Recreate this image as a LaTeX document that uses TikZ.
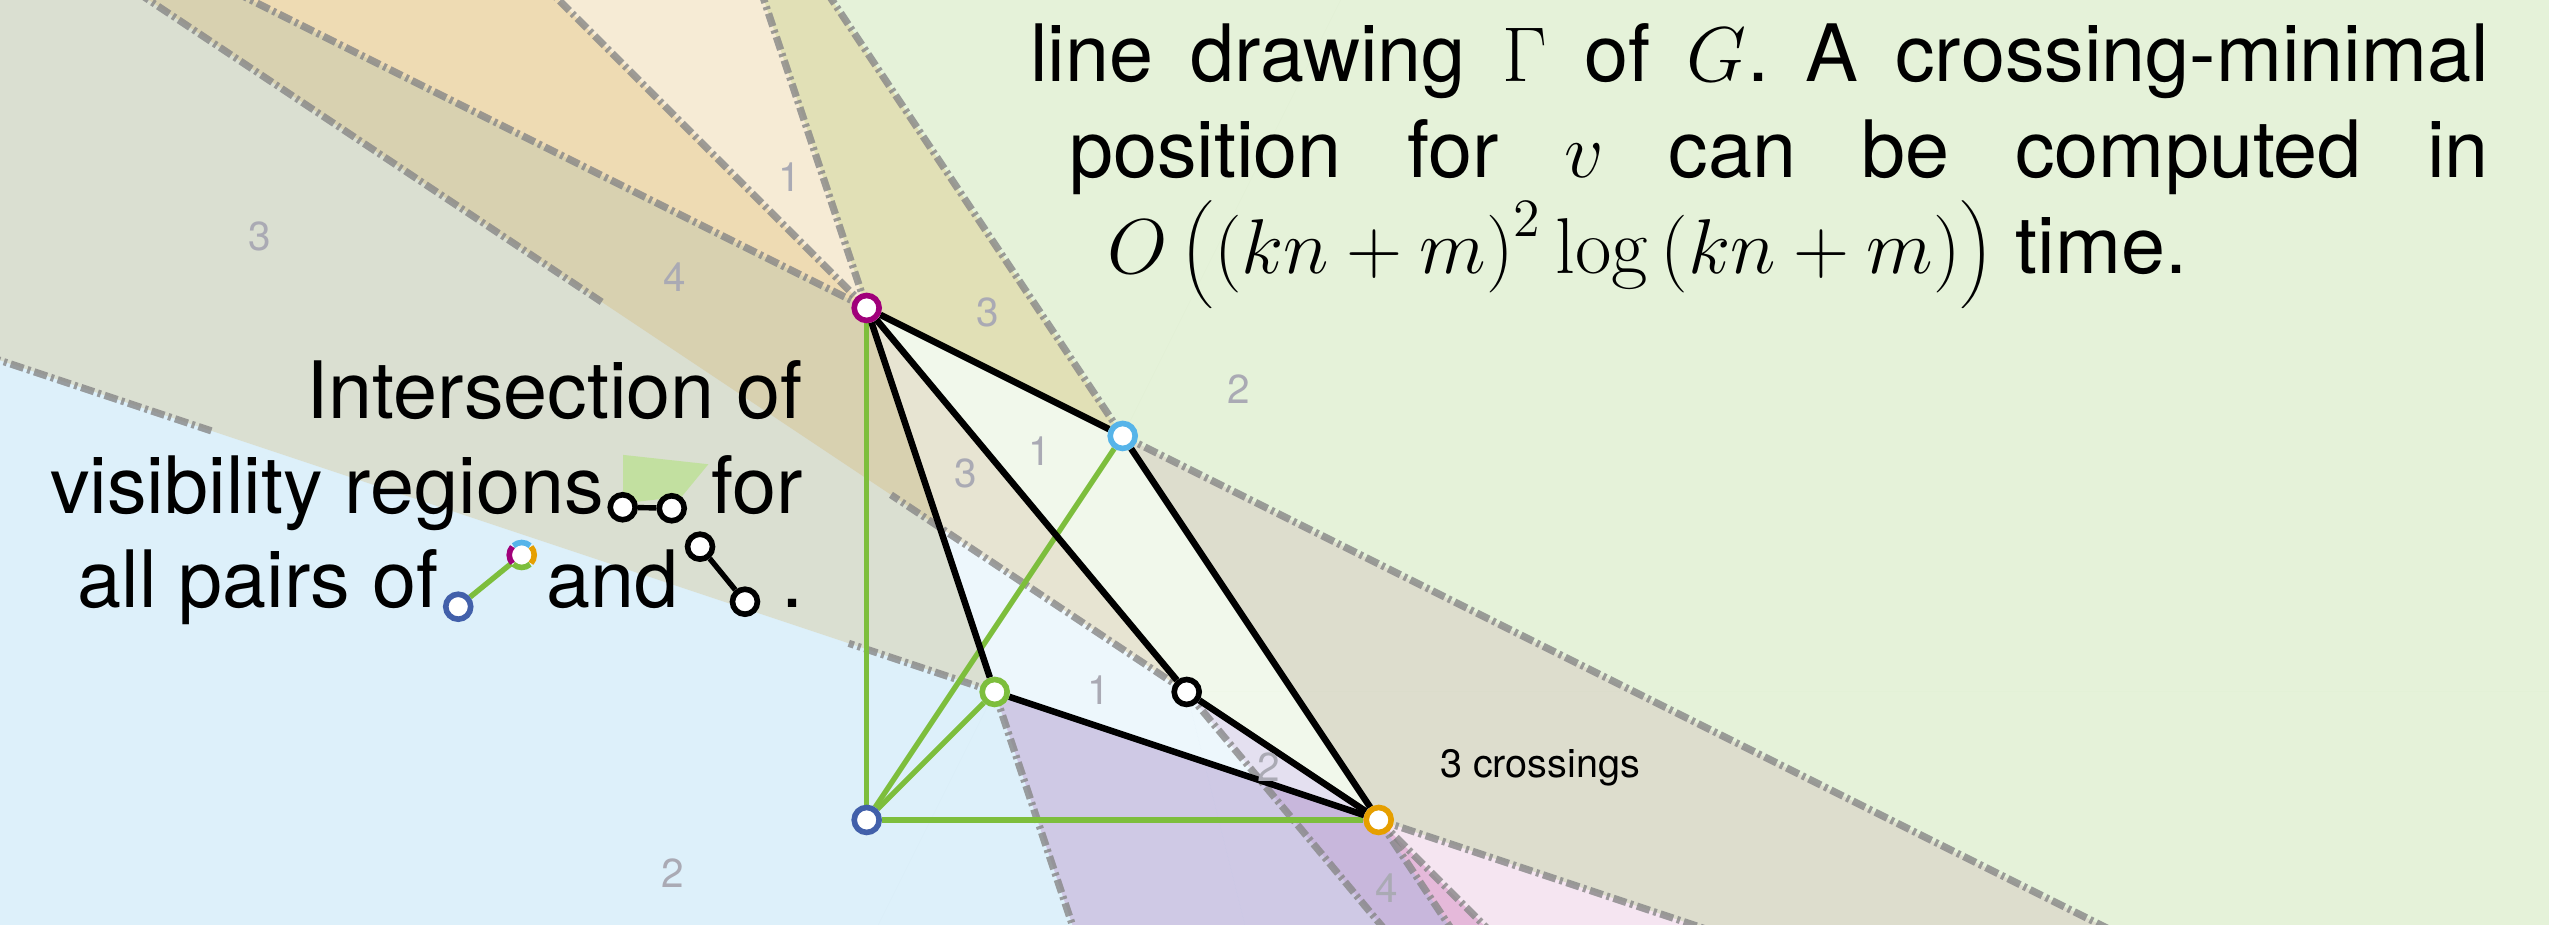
\documentclass[tikz,border=0pt]{standalone}
\usepackage{fontspec}
\setsansfont{TeX Gyre Heros}
\usetikzlibrary{calc}
\pgfdeclarelayer{bg}
\pgfsetlayers{bg,main}
\frenchspacing
\definecolor{cM}{RGB}{160,0,122}
\definecolor{cC}{RGB}{86,180,233}
\definecolor{cG}{RGB}{125,190,60}
\definecolor{cO}{RGB}{230,159,0}
\definecolor{cB}{RGB}{66,96,170}
\definecolor{fO}{RGB}{210,155,45}
\definecolor{numgray}{RGB}{170,170,180}
\definecolor{legfill}{RGB}{194,224,160}
\definecolor{raygray}{RGB}{135,135,135}
\newcommand{\shd}[4]{\fill[#4] (#2) -- (#3) -- ($(#3)!-30!(#1)$) -- ($(#2)!-30!(#1)$) -- cycle;}
\begin{document}
\begin{tikzpicture}[
  sM/.style={fill=cM, fill opacity=0.1, draw=none},
  sMM/.style={fill=cM, fill opacity=0.19, draw=none},
  sC/.style={fill=cC, fill opacity=0.1, draw=none},
  sG/.style={fill=cG, fill opacity=0.1, draw=none},
  sO/.style={fill=fO, fill opacity=0.2, draw=none},
  rayline/.style={draw=raygray, draw opacity=0.8, line width=1.6pt, dash pattern=on 3pt off 0.9pt on 0.7pt off 0.9pt},
  gedge/.style={draw=cG, line width=1.2pt},
  bedge/.style={draw=black, line width=1.45pt},
  vtx/.style={circle, draw=#1, fill=white, line width=1.25pt, minimum size=0.195cm, inner sep=0pt},
  num/.style={text=numgray, inner sep=0pt, font=\sffamily\fontsize{9}{10}\selectfont},
  txt/.style={inner sep=0pt, font=\sffamily\fontsize{17.6}{21.3}\selectfont},
  small/.style={inner sep=0pt, font=\sffamily\fontsize{8.8}{10}\selectfont}
]
\useasboundingbox (-6.771,-0.820) rectangle (13.143,6.406);
\coordinate (pB) at (0,0);
\coordinate (pM) at (0,4);
\coordinate (pC) at (2,3);
\coordinate (pG) at (1,1);
\coordinate (pK) at (2.5,1);
\coordinate (pO) at (4,0);
% vertices
\node[vtx=cB] (b) at (pB) {};
\node[vtx=cM] (m) at (pM) {};
\node[vtx=cC] (c) at (pC) {};
\node[vtx=cG] (g) at (pG) {};
\node[vtx=black] (k) at (pK) {};
\node[vtx=cO] (o) at (pO) {};
% legend vertices
\node[vtx=black] (l1) at (-1.906,2.443) {};
\node[vtx=black] (l2) at (-1.523,2.435) {};
\node[vtx=cB] (l3) at (-3.191,1.666) {};
\node[circle, fill=white, minimum size=0.195cm, inner sep=0pt] (l4) at (-2.695,2.070) {};
\node[vtx=black] (l5) at (-1.302,2.135) {};
\node[vtx=black] (l6) at (-0.951,1.705) {};
\draw[cC, line width=1.25pt] ($(l4.center)+(48:0.0975)$) arc (48:132:0.0975);
\draw[cM, line width=1.25pt] ($(l4.center)+(138:0.0975)$) arc (138:222:0.0975);
\draw[cG, line width=1.25pt] ($(l4.center)+(228:0.0975)$) arc (228:312:0.0975);
\draw[cO, line width=1.25pt] ($(l4.center)+(318:0.0975)$) arc (318:402:0.0975);
\begin{pgfonlayer}{bg}
\begin{scope}
\clip (-6.771,-0.820) rectangle (13.143,6.406);
\fill[white] (-6.771,-0.820) rectangle (13.143,6.406);
\shd{pM}{pC}{pO}{sM}
\shd{pM}{pG}{pO}{sMM}
\shd{pM}{pK}{pO}{sM}
\shd{pC}{pM}{pG}{sC}
\shd{pC}{pM}{pK}{sC}
\shd{pC}{pG}{pO}{sC}
\shd{pC}{pK}{pO}{sC}
\shd{pG}{pM}{pC}{sG}
\shd{pG}{pM}{pK}{sG}
\shd{pG}{pC}{pO}{sG}
\shd{pG}{pK}{pO}{sG}
\shd{pO}{pM}{pC}{sO}
\shd{pO}{pM}{pG}{sO}
\shd{pO}{pM}{pK}{sO}
% dashed boundaries
\draw[rayline] ($(pO)!4.047!(pK)$) -- ($(pO)!6.6!(pK)$);
\draw[rayline] (pK) -- ($(pO)!2.54!(pK)$);
\draw[rayline] (pM) -- ($(pM)!-10!(pC)$);
\draw[rayline] (pM) -- ($(pM)!-10!(pO)$);
\draw[rayline] (pM) -- ($(pM)!-10!(pG)$);
\draw[rayline] (pC) -- ($(pC)!-10!(pO)$);
\draw[rayline] (pC) -- ($(pC)!-10!(pM)$);
\draw[rayline] (pO) -- ($(pO)!-10!(pG)$);
\draw[rayline] (pO) -- ($(pO)!-10!(pM)$);
\draw[rayline] (pO) -- ($(pO)!-10!(pC)$);
\draw[rayline] (pK) -- ($(pK)!-10!(pM)$);
\draw[rayline] (pG) -- ($(pG)!-10!(pM)$);
\draw[rayline] (pG) -- ($(pO)!1.38!(pG)$);
\draw[rayline] ($(pO)!3.04!(pG)$) -- ($(pO)!4.2!(pG)$);
\end{scope}
% green edges
\draw[gedge] (b) -- (m);
\draw[gedge] (b) -- (o);
\draw[gedge] (b) -- (c);
\draw[gedge] (b) -- (g);
% black edges
\draw[bedge] (m) -- (c);
\draw[bedge] (m) -- (g);
\draw[bedge] (m) -- (k);
\draw[bedge] (c) -- (o);
\draw[bedge] (g) -- (o);
\draw[bedge] (k) -- (o);
% legend
\fill[legfill] (-1.902,2.852) -- (-1.237,2.779) -- (-1.445,2.526) -- (-1.902,2.474) -- cycle;
\draw[bedge, line width=1.2pt] (l1) -- (l2);
\draw[gedge] (l3) -- (l4);
\draw[bedge, line width=1.2pt] (l5) -- (l6);
\end{pgfonlayer}
% numbers
\node[num] at (-4.743,4.562) {3};
\node[num] at (-1.503,4.240) {4};
\node[num] at (-0.604,5.023) {1};
\node[num] at (-1.517,-0.415) {2};
\node[num] at (0.945,3.966) {3};
\node[num] at (2.903,3.363) {2};
\node[num] at (1.35,2.882) {1};
\node[num] at (0.772,2.71) {3};
\node[num] at (1.81,1.014) {1};
\node[num] at (3.142,0.415) {2};
\node[num] at (4.065,-0.53) {4};
\node[small, anchor=base west] (cr) at (4.473,0.328) {3 crossings};
% legend text
\node[txt, anchor=base east] (lt1) at (-0.49,3.133) {Intersection of};
\node[txt, anchor=base east] (lt2) at (-2.047,2.398) {visibility regions};
\node[txt, anchor=base east] (lt3) at (-0.49,2.398) {for};
\node[txt, anchor=base east] (lt4) at (-3.337,1.656) {all pairs of};
\node[txt, anchor=base west] (lt5) at (-2.508,1.656) {and};
\node[txt, anchor=base east] (lt6) at (-0.49,1.656) {.};
% theorem text
\node[txt, anchor=base west] (t1) at (1.27,5.766) {\makebox[11.396cm][s]{line drawing $\Gamma$ of $G$. A crossing-minimal}};
\node[txt, anchor=base west] (t2) at (1.574,5.023) {\makebox[11.092cm][s]{position for $v$ can be computed in}};
\node[txt, anchor=base west] (t3) at (1.876,4.266) {$O\left(\left(kn+m\right)^2\log\left(kn+m\right)\right)$ time.};
\end{tikzpicture}
\end{document}
